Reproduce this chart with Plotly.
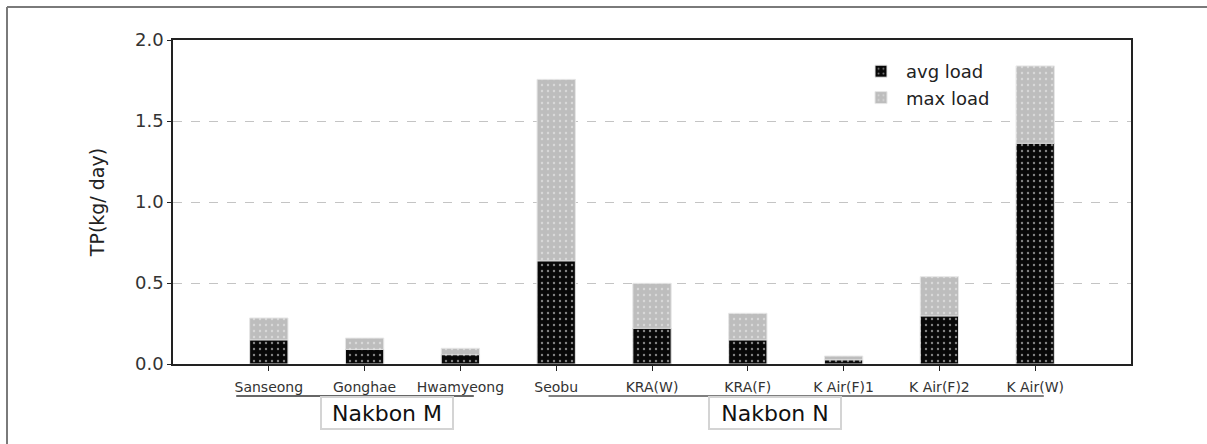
import plotly.graph_objects as go

# Sampling sites, grouped by treatment plant
sites = ["Sanseong", "Gonghae", "Hwamyeong", "Seobu", "KRA(W)", "KRA(F)",
         "K Air(F)1", "K Air(F)2", "K Air(W)"]
avg_load = [0.148, 0.09, 0.057, 0.636, 0.22, 0.148, 0.025, 0.296, 1.362]
max_load = [0.284, 0.16, 0.097, 1.757, 0.498, 0.313, 0.049, 0.539, 1.84]
y_ticks = [0.0, 0.5, 1.0, 1.5, 2.0]

FONT = "DejaVu Sans, sans-serif"

fig = go.Figure()

fig.add_trace(go.Bar(
    x=sites, y=max_load, name="max load", width=0.4,
    marker=dict(color="#bdbdbd",
                line=dict(color="#e6e6e6", width=1),
                pattern=dict(shape=".", fgcolor="#f4f4f4", bgcolor="#bdbdbd",
                             size=6, solidity=0.12)),
))
fig.add_trace(go.Bar(
    x=sites, y=avg_load, name="avg load", width=0.4,
    marker=dict(color="#080808",
                line=dict(color="#e6e6e6", width=1),
                pattern=dict(shape=".", fgcolor="#ffffff", bgcolor="#080808",
                             size=6, solidity=0.12)),
))

# px -> paper helpers for the decorations around the plot area
L, R, T, B = 173, 1131, 40, 364
def px_x(px):
    return (px - L) / (R - L)
def px_y(py):
    return (B - py) / (B - T)

frame = dict(color="#7a7a7a", width=2)
shapes = [
    # outer frame: left and top edges
    dict(type="line", xref="paper", yref="paper",
         x0=px_x(7), x1=px_x(7), y0=px_y(7), y1=px_y(444), line=frame),
    dict(type="line", xref="paper", yref="paper",
         x0=px_x(7), x1=px_x(1207), y0=px_y(7), y1=px_y(7), line=frame),
    # group underlines
    dict(type="line", xref="x", yref="paper", x0=-0.34, x1=2.14,
         y0=px_y(396), y1=px_y(396), line=dict(color="#333333", width=1.5)),
    dict(type="line", xref="x", yref="paper", x0=2.92, x1=8.09,
         y0=px_y(396), y1=px_y(396), line=dict(color="#555555", width=1.5)),
]

group_box = dict(xref="x", yref="paper", y=px_y(413), yanchor="middle",
                 xanchor="center", showarrow=False,
                 font=dict(family=FONT, size=22, color="#111111"),
                 bordercolor="#d4d4d4", borderwidth=2, bgcolor="white",
                 width=128, height=28)
annotations = [
    dict(group_box, text="Nakbon M", x=1.23),
    dict(group_box, text="Nakbon N", x=5.28),
]

fig.update_layout(
    width=1207, height=444,
    margin=dict(l=L, r=1207 - R, t=T, b=444 - B, pad=0),
    paper_bgcolor="white", plot_bgcolor="white",
    barmode="overlay",
    showlegend=True,
    legend=dict(x=px_x(856), y=px_y(53), xanchor="left", yanchor="top",
                traceorder="reversed", bgcolor="rgba(0,0,0,0)",
                font=dict(family=FONT, size=18, color="#222222"),
                itemwidth=40, tracegroupgap=0),
    font=dict(family=FONT, color="#222222"),
    shapes=shapes,
    annotations=annotations,
    xaxis=dict(
        type="category", range=[-1, 9],
        showline=True, linecolor="#222222", linewidth=1.5, mirror=True,
        ticks="outside", ticklen=5, tickcolor="#222222",
        ticklabelstandoff=4,
        tickfont=dict(family=FONT, size=14, color="#333333"),
        showgrid=False,
    ),
    yaxis=dict(
        range=[0, 2], tickvals=y_ticks, tickformat=".1f",
        showline=True, linecolor="#222222", linewidth=1.5, mirror=True,
        ticks="outside", ticklen=4, tickcolor="#222222",
        tickfont=dict(family=FONT, size=18, color="#333333"),
        showgrid=True, gridcolor="#c4c4c4", griddash="dash", gridwidth=1,
        zeroline=False,
        title=dict(text="TP(kg/ day)", standoff=25,
                   font=dict(family=FONT, size=19, color="#222222")),
    ),
)

fig.write_html("out.html")
